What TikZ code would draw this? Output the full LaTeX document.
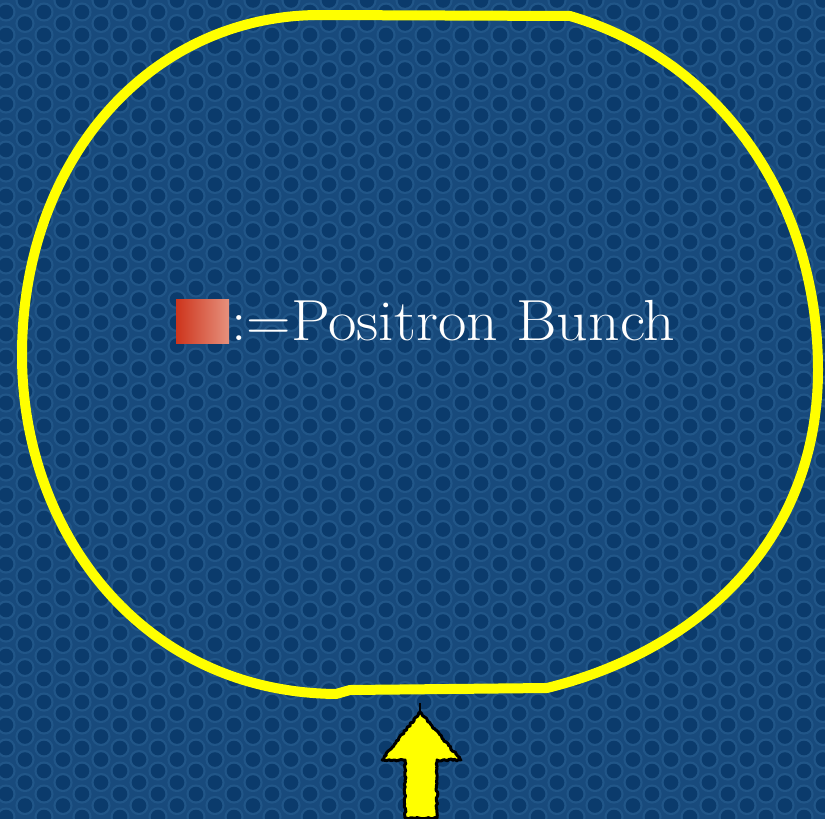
\documentclass[tikz,border=0pt]{standalone}
\usetikzlibrary{decorations.pathmorphing}
\definecolor{bgblue}{RGB}{24,74,124}
\definecolor{dotdark}{RGB}{11,59,108}
\definecolor{dotring}{RGB}{33,86,136}
\definecolor{ringyellow}{RGB}{255,255,0}
\definecolor{bunchL}{RGB}{205,52,28}
\definecolor{bunchR}{RGB}{230,145,125}
\tikzset{
  ringline/.style={draw=ringyellow, line width=10pt, line join=round},
  bunchbox/.style={draw=none, minimum width=53pt, minimum height=44pt, inner sep=0pt, left color=bunchL, right color=bunchR},
  labeltext/.style={text=white, inner sep=0pt, anchor=base west, font=\fontsize{58}{64}\selectfont},
  injarrow/.style={fill=ringyellow, draw=black, line width=3pt, line join=round,
     decoration={random steps, segment length=2pt, amplitude=0.9pt}, decorate}
}
\begin{document}
\begin{tikzpicture}[x=1pt,y=-1pt]
\useasboundingbox (0,0) rectangle (825,819);
\fill[bgblue] (0,0) rectangle (825,819);
% hexagonal dot pattern
\begin{scope}
\clip (0,0) rectangle (825,819);
\foreach \i in {0,...,44}{
  \foreach \j in {-1,...,36}{
    \pgfmathsetmacro{\px}{6+\i*19}
    \pgfmathsetmacro{\py}{12+\j*23+mod(\i,2)*11.5}
    \fill[dotring] (\px,\py) circle (9.6);
    \fill[dotdark] (\px,\py) circle (7.3);
  }
}
\end{scope}
% storage ring
\draw[ringline] (320,15) -- (570,16)
  .. controls (720,60) and (818,200) .. (818,370)
  .. controls (818,540) and (700,650) .. (547,688)
  -- (350,690) -- (336,694)
  .. controls (140,692) and (22,530) .. (22,355)
  .. controls (22,160) and (150,15) .. cycle;
% legend
\node[bunchbox] (bunch) at (202.5,321) {};
\node[labeltext] (label) at (231,340) {\scalebox{1.065}[1]{:=Positron Bunch}};
% injection arrow
\pgfmathsetseed{7}
\draw[injarrow] (420,712) -- (461,760) -- (437,760) -- (437,818) -- (405,818) -- (405,760) -- (382,760) -- cycle;
\coordinate (tiptop) at (420,703);
\coordinate (tip) at (420,712);
\draw[black, line width=1.5pt] (tiptop) -- (tip);
\end{tikzpicture}
\end{document}
